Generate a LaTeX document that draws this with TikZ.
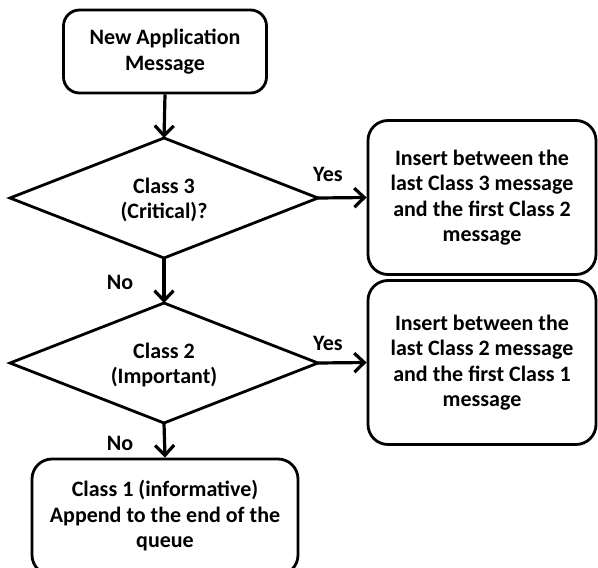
\documentclass[tikz,border=0pt]{standalone}
\usepackage{fontspec}
\setmainfont{Carlito}
\usetikzlibrary{arrows.meta}
\begin{document}
\begin{tikzpicture}[x=1pt,y=-1pt,
  every node/.style={font=\bfseries\fontsize{22}{25.5}\selectfont, align=center},
  box/.style={draw, line width=2.8pt, rounded corners=16pt, inner sep=0pt},
  dia/.style={draw, line width=2.8pt, line join=miter},
  lbl/.style={inner sep=0pt},
  arr/.style={line width=3.2pt, -{Straight Barb[length=10pt,width=19pt,line width=3.2pt]}}]
\useasboundingbox (0,0) rectangle (598,568);
\node[box, minimum width=203pt, minimum height=83pt] (start) at (165,51.5) {New Application\\Message};
% decision 1
\coordinate (d1n) at (164,138);
\coordinate (d1e) at (318,198);
\coordinate (d1s) at (164,258);
\coordinate (d1w) at (10,198);
\draw[dia] (d1n) -- (d1e) -- (d1s) -- (d1w) -- cycle;
\node[lbl] (d1) at (164,200) {Class 3\\(Critical)?};
% decision 2
\coordinate (d2n) at (164,303);
\coordinate (d2e) at (318,363);
\coordinate (d2s) at (164,423);
\coordinate (d2w) at (10,363);
\draw[dia] (d2n) -- (d2e) -- (d2s) -- (d2w) -- cycle;
\node[lbl] (d2) at (164,365) {Class 2\\(Important)};
\node[box, minimum width=228pt, minimum height=154pt, rounded corners=20pt] (r1) at (482,197.5) {Insert between the\\last Class 3 message\\and the first Class 2\\message};
\node[box, minimum width=228pt, minimum height=164pt, rounded corners=20pt] (r2) at (482,362.5) {Insert between the\\last Class 2 message\\and the first Class 1\\message};
\node[box, minimum width=266pt, minimum height=116pt, rounded corners=20pt] (c1) at (165,517) {};
\node[lbl] (c1t) at (165,516) {Class 1 (informative)\\Append to the end of the\\queue};
\draw[arr] (start.south) -- (d1n);
\draw[arr] (d1e) -- (r1.west);
\draw[arr] (d2e) -- (r2.west);
\draw[arr] (d1s) -- (d2n);
\draw[arr] (d2s) -- (c1.north);
\node[lbl] (y1) at (328,174) {Yes};
\node[lbl] (y2) at (328,343) {Yes};
\node[lbl] (n1) at (120,282) {No};
\node[lbl] (n2) at (120,443) {No};
\end{tikzpicture}
\end{document}
